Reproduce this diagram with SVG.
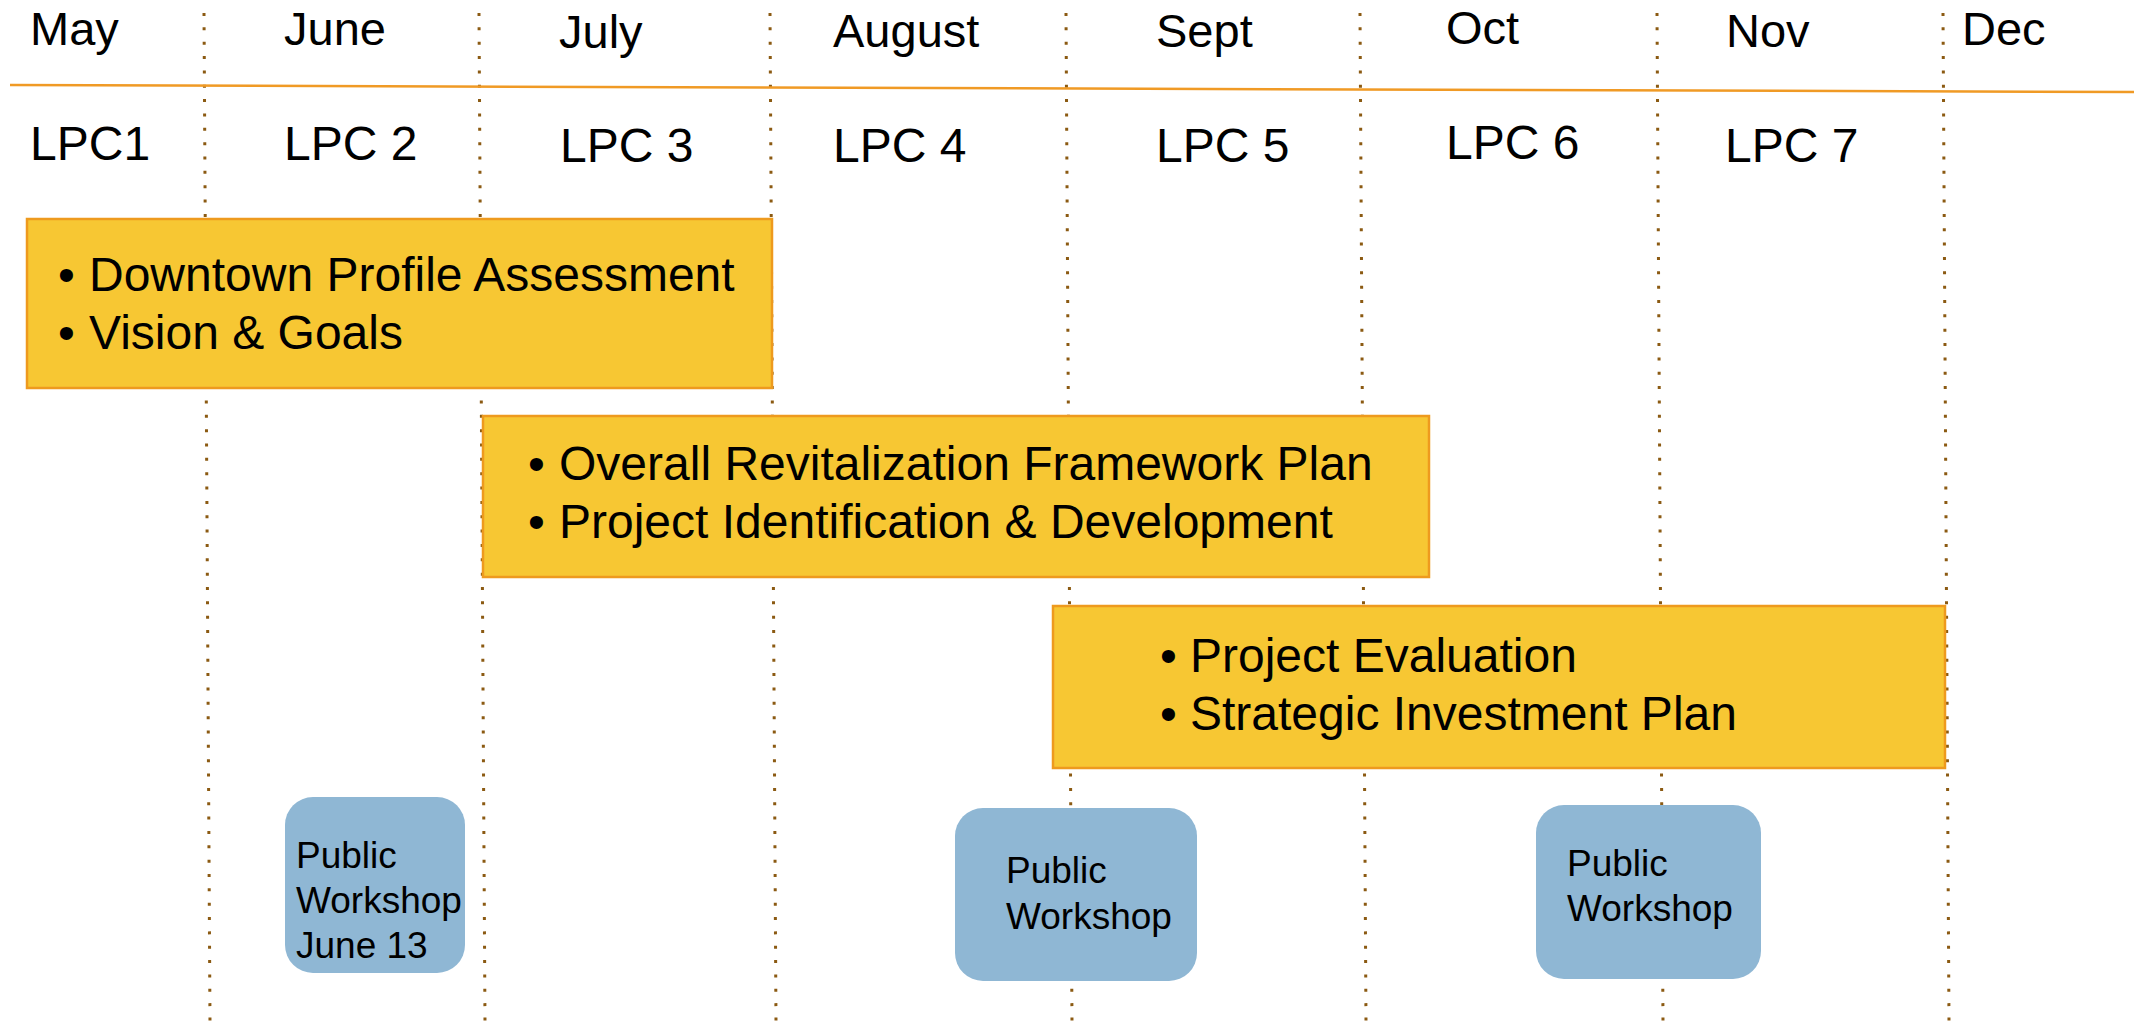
<svg xmlns="http://www.w3.org/2000/svg" width="2134" height="1023" viewBox="0 0 2134 1023">
<style>
text{font-family:"Liberation Sans",Arial,sans-serif;fill:#000}
.mon{font-size:47px}
.lpc{font-size:48px}
.bar{fill:#F7C733;stroke:#EE9A1E;stroke-width:2.5}
.bt{font-size:48px}
.ws{fill:#8FB7D4}
.wt{font-size:37px}
.grid{stroke:#8B5A12;stroke-width:3;stroke-dasharray:3 11.35;fill:none}
</style>
<rect width="2134" height="1023" fill="#fff"/>
<g id="connectors">
<line class="grid" x1="204" y1="13" x2="210" y2="1023"/>
<line class="grid" x1="479" y1="13" x2="485" y2="1023"/>
<line class="grid" x1="770" y1="13" x2="776" y2="1023"/>
<line class="grid" x1="1066" y1="13" x2="1072" y2="1023"/>
<line class="grid" x1="1360" y1="13" x2="1366" y2="1023"/>
<line class="grid" x1="1657" y1="13" x2="1663" y2="1023"/>
<line class="grid" x1="1943" y1="13" x2="1949" y2="1023"/>
<line x1="10" y1="85" x2="2134" y2="92" stroke="#F09A25" stroke-width="2.5"/>
</g>
<g id="months">
<text class="mon" x="30" y="45">May</text>
<text class="mon" x="284" y="45">June</text>
<text class="mon" x="559" y="48">July</text>
<text class="mon" x="833" y="47">August</text>
<text class="mon" x="1156" y="47">Sept</text>
<text class="mon" x="1446" y="44">Oct</text>
<text class="mon" x="1726" y="47">Nov</text>
<text class="mon" x="1962" y="45">Dec</text>
</g>
<g id="lpcs">
<text class="lpc" x="30" y="160">LPC1</text>
<text class="lpc" x="284" y="160">LPC 2</text>
<text class="lpc" x="560" y="162">LPC 3</text>
<text class="lpc" x="833" y="162">LPC 4</text>
<text class="lpc" x="1156" y="162">LPC 5</text>
<text class="lpc" x="1446" y="159">LPC 6</text>
<text class="lpc" x="1725" y="162">LPC 7</text>
</g>
<g id="phase1">
<rect class="bar" x="27" y="219" width="745" height="169"/>
<text class="bt" x="58" y="291">•</text><text class="bt" x="89" y="291">Downtown Profile Assessment</text>
<text class="bt" x="58" y="349">•</text><text class="bt" x="89" y="349">Vision &amp; Goals</text>
</g>
<g id="phase2">
<rect class="bar" x="483" y="416" width="946" height="161"/>
<text class="bt" x="528" y="480">•</text><text class="bt" x="559" y="480">Overall Revitalization Framework Plan</text>
<text class="bt" x="528" y="538">•</text><text class="bt" x="559" y="538">Project Identification &amp; Development</text>
</g>
<g id="phase3">
<rect class="bar" x="1053" y="606" width="892" height="162"/>
<text class="bt" x="1160" y="672">•</text><text class="bt" x="1190" y="672">Project Evaluation</text>
<text class="bt" x="1160" y="730">•</text><text class="bt" x="1190" y="730">Strategic Investment Plan</text>
</g>
<g id="workshop1">
<rect class="ws" x="285" y="797" width="180" height="176" rx="28"/>
<text class="wt" x="296" y="868">Public</text>
<text class="wt" x="296" y="913">Workshop</text>
<text class="wt" x="296" y="958">June 13</text>
</g>
<g id="workshop2">
<rect class="ws" x="955" y="808" width="242" height="173" rx="28"/>
<text class="wt" x="1006" y="883">Public</text>
<text class="wt" x="1006" y="929">Workshop</text>
</g>
<g id="workshop3">
<rect class="ws" x="1536" y="805" width="225" height="174" rx="28"/>
<text class="wt" x="1567" y="876">Public</text>
<text class="wt" x="1567" y="921">Workshop</text>
</g>
</svg>
